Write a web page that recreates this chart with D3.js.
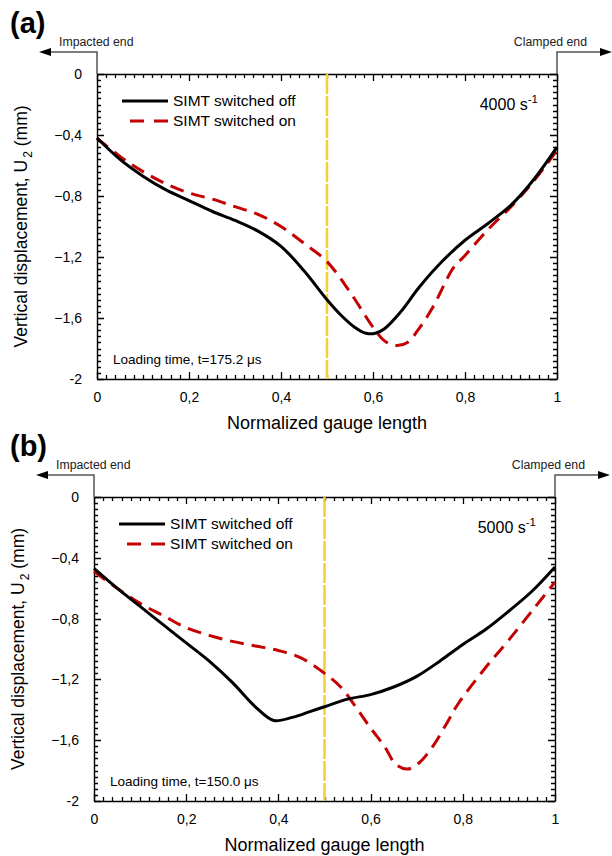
<!DOCTYPE html>
<html>
<head>
<meta charset="utf-8">
<script src="https://cdn.jsdelivr.net/npm/d3@7"></script>
<style>
  body { margin: 0; background: #fff; }
  svg { display: block; font-family: Arial, "Liberation Sans", sans-serif; }
</style>
</head>
<body>
<svg id="chart" width="612" height="856"></svg>
<script>
// ---- data ----
const xTicks = [0, 0.2, 0.4, 0.6, 0.8, 1];
const yTicks = [0, -0.4, -0.8, -1.2, -1.6, -2];

const gaugeA = [0, 0.05, 0.1, 0.15, 0.2, 0.25, 0.3, 0.35, 0.4, 0.45, 0.5, 0.53, 0.56, 0.585, 0.605, 0.625, 0.66, 0.7, 0.75, 0.8, 0.85, 0.9, 0.95, 1];
const offA   = [-0.42, -0.56, -0.67, -0.76, -0.83, -0.9, -0.96, -1.03, -1.13, -1.29, -1.48, -1.58, -1.66, -1.7, -1.7, -1.67, -1.56, -1.4, -1.23, -1.09, -0.98, -0.86, -0.69, -0.48];
const gaugeAon = [0, 0.05, 0.1, 0.15, 0.2, 0.25, 0.3, 0.35, 0.4, 0.45, 0.5, 0.55, 0.6, 0.625, 0.65, 0.675, 0.7, 0.73, 0.775, 0.8, 0.85, 0.9, 0.95, 1];
const onA    = [-0.42, -0.54, -0.64, -0.72, -0.78, -0.82, -0.87, -0.92, -1.0, -1.11, -1.23, -1.43, -1.66, -1.75, -1.78, -1.76, -1.67, -1.53, -1.27, -1.19, -1.02, -0.87, -0.7, -0.5];

const gaugeB = [0, 0.05, 0.1, 0.15, 0.2, 0.25, 0.3, 0.35, 0.39, 0.43, 0.47, 0.5, 0.55, 0.6, 0.65, 0.7, 0.75, 0.8, 0.85, 0.9, 0.95, 1];
const offB   = [-0.47, -0.6, -0.72, -0.84, -0.96, -1.08, -1.22, -1.38, -1.47, -1.45, -1.41, -1.38, -1.33, -1.3, -1.25, -1.18, -1.08, -0.97, -0.87, -0.75, -0.62, -0.46];
const gaugeBon = [0, 0.05, 0.1, 0.15, 0.2, 0.25, 0.3, 0.35, 0.4, 0.45, 0.5, 0.535, 0.57, 0.6, 0.63, 0.655, 0.68, 0.705, 0.735, 0.765, 0.79, 0.85, 0.9, 0.95, 1];
const onB    = [-0.49, -0.6, -0.7, -0.78, -0.86, -0.91, -0.95, -0.98, -1.01, -1.06, -1.16, -1.25, -1.39, -1.52, -1.64, -1.76, -1.79, -1.75, -1.64, -1.49, -1.36, -1.12, -0.94, -0.75, -0.56];

const panels = [
  {tag: '(a)', rate: '4000', time: 'Loading time, t=175.2 \u03bcs',
   left: 97, right: 557, top: 74, bottom: 379,
   off: {x: gaugeA, y: offA}, on: {x: gaugeAon, y: onA}},
  {tag: '(b)', rate: '5000', time: 'Loading time, t=150.0 \u03bcs',
   left: 94, right: 555, top: 497, bottom: 801,
   off: {x: gaugeB, y: offB}, on: {x: gaugeBon, y: onB}}
];

const svg = d3.select('#chart');
const fmt = d => (d === 0 ? '0' : Number.isInteger(d) ? String(d) : d3.format('.1f')(d).replace('.', ','));
const redCol = '#c40000';
const yellowCol = '#f8d030';
const greyCol = '#555';

panels.forEach(p => {
  const x = d3.scaleLinear().domain([0, 1]).range([p.left, p.right]);
  const y = d3.scaleLinear().domain([-2, 0]).range([p.bottom, p.top]);
  const g = svg.append('g');

  const xMinor = d3.range(0, 51).map(i => i / 50);
  const yMinor = d3.range(0, 51).map(i => -i / 25);
  const isMajor = (v, step) => Math.abs(v / step - Math.round(v / step)) < 1e-6;

  // inward ticks on all four sides, one path (major every 0.2 / 0.4)
  let tickPath = '';
  xMinor.forEach(d => {
    const len = isMajor(d, 0.2) ? 7 : 4;
    const px = Math.round(x(d)) + 0.5;
    tickPath += `M${px},${p.bottom}v${-len}M${px},${p.top}v${len}`;
  });
  yMinor.forEach(d => {
    const len = isMajor(d, 0.4) ? 7 : 4;
    const py = Math.round(y(d)) + 0.5;
    tickPath += `M${p.left},${py}h${len}M${p.right},${py}h${-len}`;
  });
  g.append('path').attr('d', tickPath)
    .attr('fill', 'none').attr('stroke', '#000').attr('stroke-width', 1.3);

  // frame + tick labels through the axes
  g.append('g').attr('transform', `translate(0,${p.bottom})`)
    .call(d3.axisBottom(x).tickValues(xTicks).tickSize(0).tickPadding(13).tickFormat(fmt));
  g.append('g').attr('transform', `translate(0,${p.top})`)
    .call(d3.axisTop(x).tickValues(xTicks).tickSize(0).tickFormat(''));
  g.append('g').attr('transform', `translate(${p.left},0)`)
    .call(d3.axisLeft(y).tickValues(yTicks).tickSize(0).tickPadding(15).tickFormat(fmt));
  g.append('g').attr('transform', `translate(${p.right},0)`)
    .call(d3.axisRight(y).tickValues(yTicks).tickSize(0).tickFormat(''));

  g.selectAll('.domain').attr('stroke', '#000').attr('stroke-width', 1.4);
  g.selectAll('.tick text').attr('font-size', 14).attr('fill', '#000')
    .style('font-family', 'Arial, "Liberation Sans", sans-serif');

  // yellow marker at the middle of the gauge
  g.append('line')
    .attr('x1', x(0.5)).attr('x2', x(0.5))
    .attr('y1', p.top).attr('y2', p.bottom)
    .attr('stroke', yellowCol).attr('stroke-width', 2.5)
    .attr('stroke-dasharray', '20,2');

  const line = d3.line().curve(d3.curveCatmullRom.alpha(0.5))
    .x(d => x(d[0])).y(d => y(d[1]));

  g.append('path')
    .datum(p.on.x.map((v, i) => [v, p.on.y[i]]))
    .attr('d', line).attr('fill', 'none')
    .attr('stroke', redCol).attr('stroke-width', 3)
    .attr('stroke-dasharray', '14,8');

  g.append('path')
    .datum(p.off.x.map((v, i) => [v, p.off.y[i]]))
    .attr('d', line).attr('fill', 'none')
    .attr('stroke', '#000').attr('stroke-width', 3);

  // legend
  const lx = p.left + 25, ly = p.top + 27;
  g.append('line').attr('x1', lx).attr('x2', lx + 46).attr('y1', ly).attr('y2', ly)
    .attr('stroke', '#000').attr('stroke-width', 3);
  g.append('line').attr('x1', lx + 8).attr('x2', lx + 46).attr('y1', ly + 20).attr('y2', ly + 20)
    .attr('stroke', redCol).attr('stroke-width', 3).attr('stroke-dasharray', '14,10');
  g.append('text').attr('x', lx + 51).attr('y', ly + 5).attr('font-size', 15.5)
    .text('SIMT switched off');
  g.append('text').attr('x', lx + 51).attr('y', ly + 25).attr('font-size', 15.5)
    .text('SIMT switched on');

  // strain rate
  const rt = g.append('text').attr('x', p.right - 19).attr('y', p.top + 36)
    .attr('text-anchor', 'end').attr('font-size', 16);
  rt.append('tspan').text(p.rate + ' s');
  rt.append('tspan').attr('dy', -7).attr('font-size', 11.5).text('-1');

  g.append('text').attr('x', p.left + 16).attr('y', p.bottom - 15)
    .attr('font-size', 13.5).text(p.time);

  // axis titles
  g.append('text').attr('x', (p.left + p.right) / 2).attr('y', p.bottom + 50)
    .attr('text-anchor', 'middle').attr('font-size', 18).text('Normalized gauge length');
  const yl = g.append('text')
    .attr('transform', `translate(${p.left - 70},${(p.top + p.bottom) / 2}) rotate(-90)`)
    .attr('text-anchor', 'middle').attr('font-size', 17.5);
  yl.append('tspan').text('Vertical displacement, U');
  yl.append('tspan').attr('dy', 5).attr('dx', 2).attr('font-size', 12).text('2');
  yl.append('tspan').attr('dy', -5).text(' (mm)');

  // panel tag
  g.append('text').attr('x', 10).attr('y', p.top - 41)
    .attr('font-size', 29).attr('font-weight', 'bold').text(p.tag);

  // end arrows
  const ay = p.top - 22;
  g.append('path')
    .attr('d', `M${p.left},${p.top}V${ay}H${p.left - 50}`)
    .attr('fill', 'none').attr('stroke', greyCol).attr('stroke-width', 1.5);
  g.append('path')
    .attr('d', `M${p.left - 58},${ay}l12,-4v8z`).attr('fill', '#000');
  g.append('path')
    .attr('d', `M${p.right},${p.top}V${ay}H${p.right + 45}`)
    .attr('fill', 'none').attr('stroke', greyCol).attr('stroke-width', 1.5);
  g.append('path')
    .attr('d', `M${p.right + 55},${ay}l-12,-4v8z`).attr('fill', '#000');
  g.append('text').attr('x', p.left - 38).attr('y', ay - 6)
    .attr('font-size', 12.3).attr('fill', '#222').text('Impacted end');
  g.append('text').attr('x', p.right + 30).attr('y', ay - 6)
    .attr('text-anchor', 'end').attr('font-size', 12.3).attr('fill', '#222').text('Clamped end');
});
</script>
</body>
</html>
